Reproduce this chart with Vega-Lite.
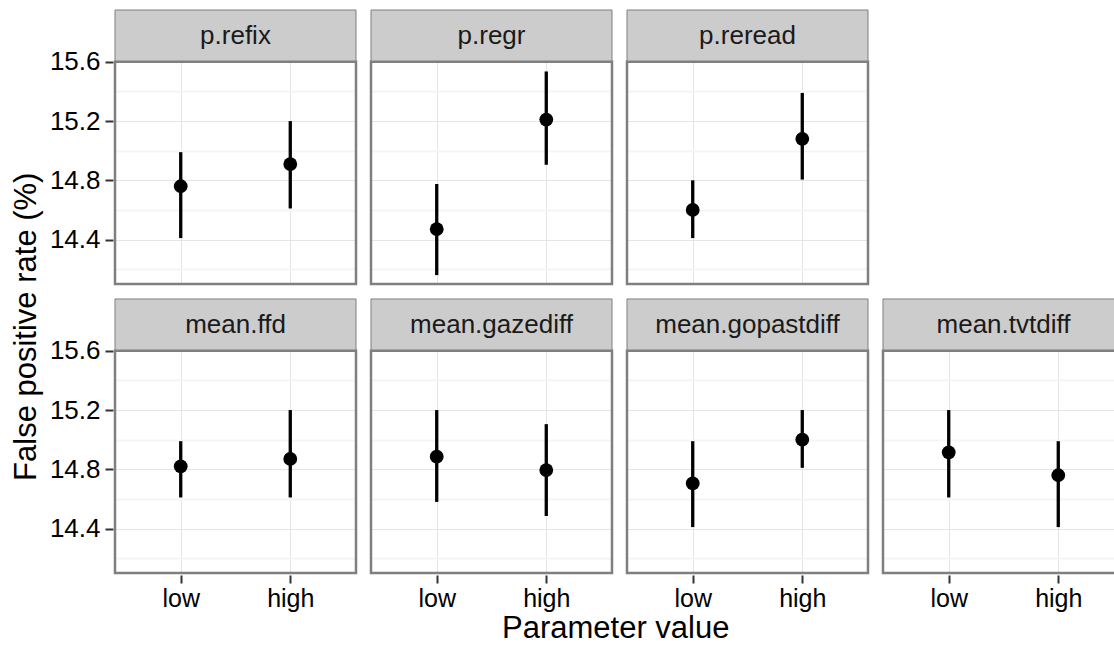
{
  "$schema": "https://vega.github.io/schema/vega-lite/v6.json",
  "padding": {"left": 11, "top": 9, "right": 0, "bottom": 0},
  "background": "white",
  "datasets": {
    "fpr": [
      {"panel": "p.refix", "group": "p", "level": "low", "fpr": 14.76, "lower": 14.41, "upper": 14.99},
      {"panel": "p.refix", "group": "p", "level": "high", "fpr": 14.91, "lower": 14.61, "upper": 15.2},
      {"panel": "p.regr", "group": "p", "level": "low", "fpr": 14.47, "lower": 14.16, "upper": 14.775},
      {"panel": "p.regr", "group": "p", "level": "high", "fpr": 15.21, "lower": 14.905, "upper": 15.535},
      {"panel": "p.reread", "group": "p", "level": "low", "fpr": 14.6, "lower": 14.41, "upper": 14.8},
      {"panel": "p.reread", "group": "p", "level": "high", "fpr": 15.08, "lower": 14.805, "upper": 15.39},
      {"panel": "mean.ffd", "group": "mean", "level": "low", "fpr": 14.82, "lower": 14.61, "upper": 14.99},
      {"panel": "mean.ffd", "group": "mean", "level": "high", "fpr": 14.87, "lower": 14.61, "upper": 15.2},
      {"panel": "mean.gazediff", "group": "mean", "level": "low", "fpr": 14.885, "lower": 14.58, "upper": 15.2},
      {"panel": "mean.gazediff", "group": "mean", "level": "high", "fpr": 14.795, "lower": 14.485, "upper": 15.105},
      {"panel": "mean.gopastdiff", "group": "mean", "level": "low", "fpr": 14.705, "lower": 14.41, "upper": 14.99},
      {"panel": "mean.gopastdiff", "group": "mean", "level": "high", "fpr": 15.0, "lower": 14.81, "upper": 15.2},
      {"panel": "mean.tvtdiff", "group": "mean", "level": "low", "fpr": 14.915, "lower": 14.61, "upper": 15.2},
      {"panel": "mean.tvtdiff", "group": "mean", "level": "high", "fpr": 14.76, "lower": 14.41, "upper": 14.99}
    ]
  },
  "config": {
    "font": "Liberation Sans",
    "view": {"stroke": null},
    "concat": {"spacing": 12},
    "facet": {"spacing": 11},
    "axisX": {
      "grid": true, "gridColor": "#e5e5e5", "gridWidth": 1,
      "domain": false, "tickColor": "#333333", "tickSize": 8, "tickWidth": 2,
      "labelFontSize": 25, "labelColor": "#000000", "labelPadding": 3, "title": null, "labelAngle": 0
    },
    "axisY": {
      "domain": false, "tickSize": 8, "tickWidth": 2, "tickColor": "#333333",
      "labelFontSize": 26, "labelColor": "#000000", "labelPadding": 5, "title": null
    },
    "title": {"fontSize": 31, "fontWeight": "normal", "color": "#000000", "font": "Liberation Sans"}
  },
  "title": {"text": "False positive rate (%)", "orient": "left", "anchor": "middle", "offset": 6},
  "vconcat": [
    {
      "data": {"name": "fpr"},
      "transform": [{"filter": "datum.group == 'p'"}],
      "facet": {"column": {"field": "panel", "type": "nominal", "sort": ["p.refix", "p.regr", "p.reread"], "header": null}},
      "spacing": 11,
      "spec": {
        "width": 241,
        "height": 274,
        "resolve": {"axis": {"y": "independent"}},
        "encoding": {
          "x": {"field": "level", "type": "nominal", "sort": ["low", "high"],
                "scale": {"type": "point", "padding": 0.6},
                "axis": {"labels": false, "ticks": false}}
        },
        "layer": [
          {
            "mark": {"type": "rule", "color": "#000000", "strokeWidth": 3.3},
            "encoding": {
              "y": {"field": "lower", "type": "quantitative",
                    "scale": {"domain": [14.1, 15.95], "nice": false, "zero": false},
                    "axis": {"values": [14.4, 14.8, 15.2, 15.6], "gridColor": "#e5e5e5", "gridWidth": 1, "orient": "left"}},
              "y2": {"field": "upper"}
            }
          },
          {
            "mark": {"type": "point", "filled": true, "color": "#000000", "opacity": 1, "size": 190},
            "encoding": {"y": {"field": "fpr", "type": "quantitative",
              "axis": {"values": [14.2, 14.6, 15.0, 15.4], "orient": "right", "labels": false, "ticks": false, "domain": false, "grid": true, "gridColor": "#f5f5f5", "gridWidth": 2.2}}}
          },
          {
            "transform": [{"filter": "datum.level == 'low'"}],
            "mark": {"type": "rect", "fill": "#cccccc", "stroke": "#7f7f7f", "strokeWidth": 1},
            "encoding": {"x": null, "y": {"datum": 15.6, "type": "quantitative", "axis": null}, "y2": {"datum": 15.95}}
          },
          {
            "transform": [{"filter": "datum.level == 'low'"}],
            "mark": {"type": "text", "fontSize": 26, "color": "#1a1a1a", "baseline": "middle", "align": "center"},
            "encoding": {"x": null, "y": {"datum": 15.775, "type": "quantitative", "axis": null}, "text": {"field": "panel"}}
          },
          {
            "transform": [{"filter": "datum.level == 'low'"}],
            "mark": {"type": "rect", "fill": null, "stroke": "#7f7f7f", "strokeWidth": 2.5},
            "encoding": {"x": null, "y": {"datum": 14.1, "type": "quantitative", "axis": null}, "y2": {"datum": 15.6}}
          }
        ]
      }
    },
    {
      "data": {"name": "fpr"},
      "transform": [{"filter": "datum.group == 'mean'"}],
      "title": {"text": "Parameter value", "orient": "bottom", "anchor": "middle", "offset": 3, "dx": 28},
      "facet": {"column": {"field": "panel", "type": "nominal", "sort": ["mean.ffd", "mean.gazediff", "mean.gopastdiff", "mean.tvtdiff"], "header": null}},
      "spacing": 11,
      "spec": {
        "width": 241,
        "height": 274,
        "resolve": {"axis": {"y": "independent"}},
        "encoding": {
          "x": {"field": "level", "type": "nominal", "sort": ["low", "high"],
                "scale": {"type": "point", "padding": 0.6}}
        },
        "layer": [
          {
            "mark": {"type": "rule", "color": "#000000", "strokeWidth": 3.3},
            "encoding": {
              "y": {"field": "lower", "type": "quantitative",
                    "scale": {"domain": [14.1, 15.95], "nice": false, "zero": false},
                    "axis": {"values": [14.4, 14.8, 15.2, 15.6], "gridColor": "#e5e5e5", "gridWidth": 1, "orient": "left"}},
              "y2": {"field": "upper"}
            }
          },
          {
            "mark": {"type": "point", "filled": true, "color": "#000000", "opacity": 1, "size": 190},
            "encoding": {"y": {"field": "fpr", "type": "quantitative",
              "axis": {"values": [14.2, 14.6, 15.0, 15.4], "orient": "right", "labels": false, "ticks": false, "domain": false, "grid": true, "gridColor": "#f5f5f5", "gridWidth": 2.2}}}
          },
          {
            "transform": [{"filter": "datum.level == 'low'"}],
            "mark": {"type": "rect", "fill": "#cccccc", "stroke": "#7f7f7f", "strokeWidth": 1},
            "encoding": {"x": null, "y": {"datum": 15.6, "type": "quantitative", "axis": null}, "y2": {"datum": 15.95}}
          },
          {
            "transform": [{"filter": "datum.level == 'low'"}],
            "mark": {"type": "text", "fontSize": 26, "color": "#1a1a1a", "baseline": "middle", "align": "center"},
            "encoding": {"x": null, "y": {"datum": 15.775, "type": "quantitative", "axis": null}, "text": {"field": "panel"}}
          },
          {
            "transform": [{"filter": "datum.level == 'low'"}],
            "mark": {"type": "rect", "fill": null, "stroke": "#7f7f7f", "strokeWidth": 2.5},
            "encoding": {"x": null, "y": {"datum": 14.1, "type": "quantitative", "axis": null}, "y2": {"datum": 15.6}}
          }
        ]
      }
    }
  ]
}
